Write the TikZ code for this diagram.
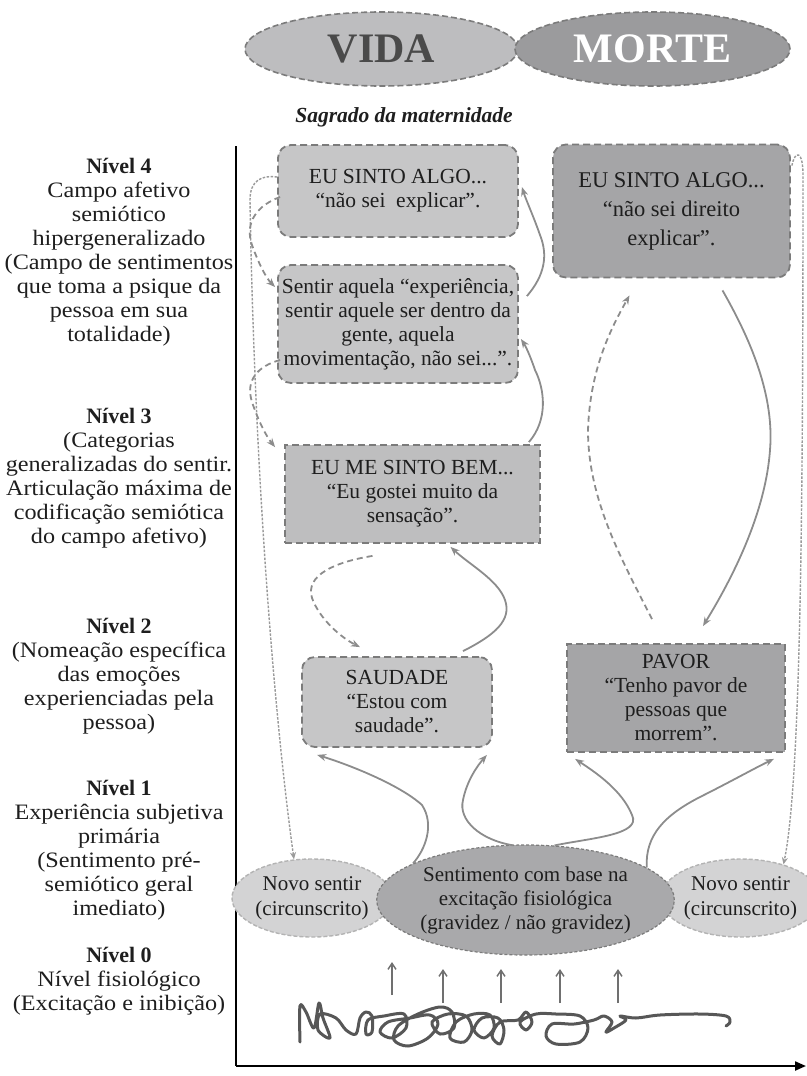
\documentclass[tikz,border=0pt]{standalone}
\usepackage{fontspec}
\setmainfont{Liberation Serif}
\newfontfamily\lblfont[FakeStretch=1.1]{Liberation Serif}
\usetikzlibrary{shapes.geometric,arrows.meta,calc}

\definecolor{boxlight}{HTML}{C6C6C7}
\definecolor{boxdark}{HTML}{A5A5A7}
\definecolor{edge}{HTML}{7B7B7B}
\definecolor{arrowgray}{HTML}{8C8C8C}
\definecolor{dotgray}{HTML}{9A9A9A}
\definecolor{ink}{HTML}{1E1E1E}
\definecolor{vidafill}{HTML}{BDBDBF}
\definecolor{vidatext}{HTML}{4A4A4A}
\definecolor{mortefill}{HTML}{9B9B9D}
\definecolor{novofill}{HTML}{D3D3D4}
\definecolor{novoedge}{HTML}{B3B3B3}
\definecolor{midfill}{HTML}{A9A9AB}
\definecolor{scrib}{HTML}{575757}

\tikzset{
  box/.style={draw=edge, line width=1.8bp, dash pattern=on 7bp off 4bp,
    text=ink, align=center, inner sep=0pt,
    font=\fontsize{21.5bp}{24bp}\selectfont},
  roundbox/.style={box, rounded corners=13bp},
  pole/.style={ellipse, draw=edge, line width=1.6bp, dash pattern=on 6bp off 3bp,
    inner sep=0pt, font=\bfseries\fontsize{42bp}{44bp}\selectfont},
  novo/.style={ellipse, draw=novoedge, line width=1.4bp, dash pattern=on 4bp off 2bp,
    fill=novofill, text=ink, align=center, inner sep=0pt,
    font=\fontsize{21bp}{25bp}\selectfont},
  lvl/.style={align=center, text=ink, anchor=north, inner sep=0pt,
    font=\lblfont\fontsize{22bp}{24bp}\selectfont},
  flow/.style={draw=arrowgray, line width=1.8bp, -{Stealth[length=9bp,width=7bp]}},
  loopback/.style={flow, dash pattern=on 6bp off 4bp},
  farloop/.style={draw=dotgray, line width=1.4bp, dash pattern=on 2.5bp off 1.5bp,
    -{Stealth[length=7bp,width=6bp]}},
  rise/.style={draw=scrib!85, line width=1.5bp, -{Straight Barb[length=6bp,width=8bp]}},
  scribble/.style={draw=scrib, line width=3bp, line join=round, line cap=round}
}
\newcommand{\lvlhead}[1]{{\rmfamily\bfseries #1}}

\begin{document}
\begin{tikzpicture}[x=1bp,y=-1bp]
\useasboundingbox (0,0) rectangle (807,1076);

% poles
\node[pole, fill=vidafill, text=vidatext, minimum width=273bp, minimum height=74bp] (vida) at (381.5,49) {VIDA};
\node[pole, fill=mortefill, text=white, minimum width=275bp, minimum height=74bp] (morte) at (652.5,49) {MORTE};
\node[text=ink, font=\bfseries\itshape\fontsize{21.5bp}{24bp}\selectfont] (sagrado) at (404,117) {Sagrado da maternidade};

% axes
\coordinate (ytop) at (236,146);
\coordinate (orig) at (236,1066);
\coordinate (xend) at (806,1066);
\draw[line width=2.2bp] (ytop) -- (orig);
\draw[line width=2.2bp, -{Triangle[length=11bp,width=9bp]}] (orig) -- (xend);

% level labels
\node[lvl] (n4) at (119,158) {\lvlhead{Nível 4}\\Campo afetivo\\semiótico\\hipergeneralizado\\(Campo de sentimentos\\que toma a psique da\\pessoa em sua\\totalidade)};
\node[lvl] (n3) at (119,408) {\lvlhead{Nível 3}\\(Categorias\\generalizadas do sentir.\\Articulação máxima de\\codificação semiótica\\do campo afetivo)};
\node[lvl] (n2) at (119,618) {\lvlhead{Nível 2}\\(Nomeação específica\\das emoções\\experienciadas pela\\pessoa)};
\node[lvl] (n1) at (119,780) {\lvlhead{Nível 1}\\Experiência subjetiva\\primária\\(Sentimento pré-\\semiótico geral\\imediato)};
\node[lvl] (n0) at (119,947) {\lvlhead{Nível 0}\\Nível fisiológico\\(Excitação e inibição)};

% feeling boxes
\node[roundbox, fill=boxlight, minimum width=240bp, minimum height=92bp] (t1) at (398,191)
  {EU SINTO ALGO...\\“não sei\ \ explicar”.};
\node[roundbox, fill=boxdark, minimum width=237bp, minimum height=133bp,
  font=\fontsize{22.5bp}{29bp}\selectfont] (t2) at (671.5,211)
  {EU SINTO ALGO...\\“não sei direito\\explicar”.};
\node[roundbox, fill=boxlight, minimum width=240bp, minimum height=118bp] (s) at (398,324)
  {Sentir aquela “experiência,\\sentir aquele ser dentro da\\gente, aquela\\movimentação, não sei...”.};
\node[box, fill=boxlight!96!black, minimum width=255bp, minimum height=98bp] (b) at (412.5,494)
  {EU ME SINTO BEM...\\“Eu gostei muito da\\sensação”.};
\node[roundbox, fill=boxlight, minimum width=190bp, minimum height=90bp] (sd) at (397,702)
  {SAUDADE\\“Estou com\\saudade”.};
\node[box, fill=boxdark, minimum width=218bp, minimum height=108bp] (pv) at (676,698)
  {PAVOR\\“Tenho pavor de\\pessoas que\\morrem”.};

% primary feelings
\node[novo, minimum width=134bp, minimum height=78bp] (nl) at (312,898) {Novo sentir\\(circunscrito)};
\node[novo, minimum width=131bp, minimum height=78bp] (nr) at (740.5,898) {Novo sentir\\(circunscrito)};
\node[ellipse, draw=edge, line width=1.2bp, dash pattern=on 3bp off 2bp, fill=midfill,
  text=ink, align=center, inner sep=0pt, minimum width=295bp, minimum height=110bp,
  font=\fontsize{21bp}{24bp}\selectfont] (m) at (525.5,900)
  {Sentimento com base na\\excitação fisiológica\\(gravidez / não gravidez)};

% long dotted returns
\draw[farloop] ($(t1.west)+(0,-14)$) .. controls (262,175) and (250,180) .. (250,200)
  .. controls (254,450) and (272,700) .. (nl.115);
\draw[farloop] ($(t2.north east)+(1,22)$) .. controls (795,150) and (803,150) .. (803,175)
  .. controls (803,500) and (801,780) .. (nr.38);

% dashed returns on the left
\draw[loopback] ($(t1.west)+(3,6)$) .. controls (258,205) and (244,222) .. (252,245)
  .. controls (258,262) and (266,278) .. ($(s.west)+(-2,-37)$);
\draw[loopback] ($(s.west)+(3,36)$) .. controls (258,366) and (245,380) .. (252,402)
  .. controls (258,420) and (266,436) .. ($(b.north west)+(-9,3)$);
\draw[loopback] ($(b.south)+(-40,12)$) .. controls (335,562) and (305,575) .. (312,598)
  .. controls (320,620) and (342,638) .. ($(sd.north)+(-37,-9)$);
\draw[loopback] ($(pv.north)+(-24,-24)$) .. controls (622,560) and (588,500) .. (588,430)
  .. controls (590,370) and (610,330) .. ($(t2.south)+(-42,17)$);

% rising and falling solid paths
\draw[flow] ($(sd.north)+(66,-5)$) .. controls (495,635) and (512,620) .. (505,600)
  .. controls (498,580) and (470,565) .. ($(b.south)+(38,3)$);
\draw[flow] ($(b.north east)+(-12,-2)$) .. controls (548,420) and (545,390) .. (535,370)
  .. controls (530,355) and (525,345) .. ($(s.east)+(2,15)$);
\draw[flow] ($(s.north east)+(8,32)$) .. controls (545,275) and (548,255) .. (540,235)
  .. controls (533,215) and (526,200) .. ($(t1.east)+(3,-4)$);
\draw[flow] ($(t2.south)+(51,12)$) .. controls (745,330) and (775,390) .. (770,450)
  .. controls (765,520) and (725,590) .. ($(pv.north)+(27,-17)$);

% from the primary feeling up to level 2
\draw[flow] (m.162) .. controls (425,850) and (435,825) .. (422,805)
  .. controls (400,785) and (350,765) .. ($(sd.south west)+(16,7)$);
\draw[flow] ($(m.north)+(-12,1)$) .. controls (480,840) and (458,820) .. (463,800)
  .. controls (467,780) and (478,765) .. ($(sd.south east)+(-6,7)$);
\draw[flow] (m.62) .. controls (590,838) and (642,835) .. (632,815)
  .. controls (622,790) and (595,772) .. ($(pv.south west)+(9,6)$);
\draw[flow] (m.15) .. controls (645,835) and (665,815) .. (700,797)
  .. controls (730,782) and (755,768) .. ($(pv.south east)+(-12,6)$);

% physiological level
\coordinate (p1) at (392,995); \coordinate (q1) at (392,962);
\coordinate (p2) at (443,1003); \coordinate (q2) at (443,969);
\coordinate (p3) at (501,1003); \coordinate (q3) at (501,969);
\coordinate (p4) at (560,1003); \coordinate (q4) at (560,969);
\coordinate (p5) at (618,1003); \coordinate (q5) at (618,969);
\foreach \i in {1,...,5} { \draw[rise] (p\i) -- (q\i); }

\draw[scribble] plot[smooth, tension=0.55] coordinates {
(300,1042) (300,1006) (306,1012) (314,1028) (319,1003) (323,1018) (330,1038) (318,1030)
(320,1014) (336,1018) (346,1030) (356,1034) (360,1018) (366,1012) (372,1016) (372,1032)
(366,1034) (368,1020) (384,1016) (404,1014) (406,1028) (392,1038) (380,1032) (388,1022)
(410,1018) (430,1015) (438,1024) (428,1038) (408,1046) (394,1040) (398,1026) (418,1014)
(440,1007) (452,1012) (454,1028) (440,1034) (432,1022) (448,1014) (466,1016) (472,1030)
(464,1042) (450,1038) (456,1022) (474,1014) (490,1015) (494,1028) (484,1038) (474,1030)
(482,1018) (498,1018) (504,1030) (500,1044) (492,1036) (500,1022) (518,1020) (526,1012)
(532,1022) (526,1030) (520,1022) (536,1014) (556,1014) (580,1016) (588,1028) (580,1042)
(556,1044) (546,1036) (552,1024) (574,1024) (594,1020) (604,1016) (612,1022) (606,1032)
(614,1028) (626,1020) (620,1016) (636,1018) (660,1015) (700,1014) (726,1016) (730,1022)
(726,1026)};
\end{tikzpicture}
\end{document}
